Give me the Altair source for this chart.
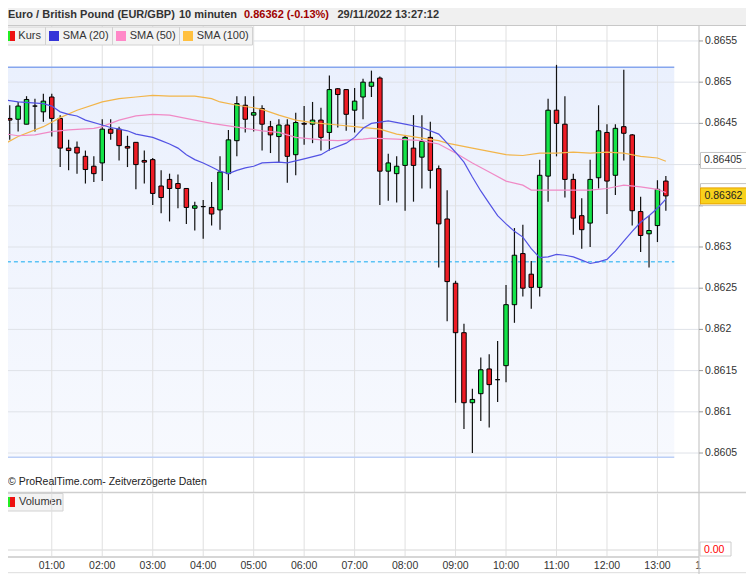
import altair as alt
import pandas as pd
import numpy as np

# ---------------- data ----------------
bar_minutes = list(range(0, 800, 10))  # 10-minute bars 00:00 .. 13:10
opens = [0.86441, 0.86456, 0.86455, 0.86449, 0.86471, 0.86464, 0.86482, 0.86456, 0.86420, 0.86421,
         0.86410, 0.86398, 0.86402, 0.86443, 0.86443, 0.86422, 0.86427, 0.86405, 0.86406, 0.86374,
         0.86382, 0.86377, 0.86371, 0.86347, 0.86349, 0.86348, 0.86345, 0.86389, 0.86429, 0.86472,
         0.86460, 0.86468, 0.86446, 0.86434, 0.86448, 0.86412, 0.86450, 0.86449, 0.86454, 0.86439,
         0.86492, 0.86491, 0.86466, 0.86482, 0.86495, 0.86505, 0.86392, 0.86389, 0.86399, 0.86420,
         0.86409, 0.86433, 0.86395, 0.86334, 0.86256, 0.86196, 0.86111, 0.86122, 0.86152, 0.86139,
         0.86156, 0.86230, 0.86292, 0.86267, 0.86251, 0.86386, 0.86466, 0.86449, 0.86382, 0.86338,
         0.86329, 0.86384, 0.86439, 0.86387, 0.86446, 0.86436, 0.86343, 0.86316, 0.86326, 0.86380]
highs = [0.86464, 0.86472, 0.86476, 0.86483, 0.86480, 0.86486, 0.86486, 0.86460, 0.86430, 0.86428,
         0.86417, 0.86410, 0.86455, 0.86455, 0.86446, 0.86435, 0.86427, 0.86417, 0.86408, 0.86393,
         0.86389, 0.86388, 0.86371, 0.86355, 0.86357, 0.86379, 0.86410, 0.86442, 0.86483, 0.86483,
         0.86483, 0.86472, 0.86453, 0.86455, 0.86455, 0.86463, 0.86471, 0.86476, 0.86469, 0.86508,
         0.86493, 0.86491, 0.86493, 0.86504, 0.86514, 0.86507, 0.86413, 0.86410, 0.86436, 0.86460,
         0.86460, 0.86452, 0.86399, 0.86369, 0.86259, 0.86207, 0.86128, 0.86166, 0.86170, 0.86186,
         0.86254, 0.86323, 0.86327, 0.86283, 0.86406, 0.86480, 0.86521, 0.86483, 0.86389, 0.86359,
         0.86406, 0.86472, 0.86449, 0.86449, 0.86515, 0.86437, 0.86361, 0.86338, 0.86381, 0.86386]
lows = [0.86437, 0.86430, 0.86440, 0.86449, 0.86440, 0.86452, 0.86434, 0.86397, 0.86393, 0.86389,
        0.86377, 0.86379, 0.86380, 0.86430, 0.86405, 0.86397, 0.86370, 0.86377, 0.86351, 0.86341,
        0.86331, 0.86347, 0.86328, 0.86320, 0.86310, 0.86326, 0.86321, 0.86369, 0.86410, 0.86439,
        0.86440, 0.86417, 0.86414, 0.86402, 0.86378, 0.86387, 0.86424, 0.86426, 0.86417, 0.86417,
        0.86445, 0.86441, 0.86439, 0.86455, 0.86482, 0.86351, 0.86356, 0.86354, 0.86344, 0.86355,
        0.86371, 0.86371, 0.86275, 0.86210, 0.86111, 0.86079, 0.86050, 0.86089, 0.86081, 0.86112,
        0.86136, 0.86208, 0.86240, 0.86225, 0.86240, 0.86355, 0.86410, 0.86360, 0.86315, 0.86298,
        0.86300, 0.86371, 0.86340, 0.86363, 0.86405, 0.86326, 0.86294, 0.86275, 0.86306, 0.86344]
closes = [0.86458, 0.86454, 0.86471, 0.86479, 0.86471, 0.86477, 0.86456, 0.86420, 0.86417, 0.86414,
          0.86394, 0.86389, 0.86443, 0.86438, 0.86423, 0.86420, 0.86400, 0.86403, 0.86365, 0.86360,
          0.86371, 0.86371, 0.86348, 0.86350, 0.86349, 0.86340, 0.86391, 0.86430, 0.86474, 0.86455,
          0.86463, 0.86449, 0.86436, 0.86448, 0.86410, 0.86451, 0.86449, 0.86454, 0.86433, 0.86491,
          0.86485, 0.86461, 0.86477, 0.86500, 0.86500, 0.86392, 0.86402, 0.86398, 0.86433, 0.86399,
          0.86428, 0.86393, 0.86328, 0.86258, 0.86196, 0.86111, 0.86115, 0.86151, 0.86133, 0.86139,
          0.86230, 0.86290, 0.86250, 0.86251, 0.86387, 0.86466, 0.86450, 0.86382, 0.86335, 0.86321,
          0.86382, 0.86441, 0.86380, 0.86444, 0.86438, 0.86344, 0.86314, 0.86320, 0.86370, 0.86362]

sma20_bar = [0, 2, 5, 6, 7, 8, 9, 10, 12, 13, 14, 15, 16, 18, 19, 20, 21, 22, 23, 24, 25, 26, 27, 28, 29,
             30, 31, 33, 34, 36, 38, 39, 41, 42, 43, 44, 46, 48, 50, 52, 53, 54, 55, 56, 57, 58, 59, 60,
             61, 62, 63, 64, 65, 66, 67, 68, 69, 70, 71, 72, 73, 74, 75, 76, 77, 78, 79]
sma20_val = [0.86479, 0.86476, 0.86474, 0.86471, 0.86464, 0.86461, 0.86459, 0.86454, 0.86448, 0.86445,
             0.86443, 0.86441, 0.86437, 0.86433, 0.86429, 0.86425, 0.86420, 0.86412, 0.86406, 0.86402,
             0.86397, 0.86392, 0.86389, 0.86393, 0.86396, 0.86398, 0.86402, 0.86403, 0.86402, 0.86407,
             0.86412, 0.86418, 0.86426, 0.86433, 0.86444, 0.86450, 0.86453, 0.86449, 0.86445, 0.86437,
             0.86426, 0.86415, 0.86403, 0.86385, 0.86368, 0.86353, 0.86338, 0.86328, 0.86319, 0.86312,
             0.86298, 0.86287, 0.86288, 0.86291, 0.86290, 0.86288, 0.86284, 0.86280, 0.86282, 0.86285,
             0.86295, 0.86307, 0.86319, 0.86330, 0.86338, 0.86347, 0.86358]
sma50_bar = [0, 2, 4, 6, 8, 11, 12, 14, 16, 18, 20, 23, 25, 27, 29, 31, 33, 35, 38, 40, 43, 44, 47, 50,
             52, 54, 56, 58, 60, 62, 63, 65, 68, 70, 72, 74, 76, 78, 79]
sma50_val = [0.86438, 0.86435, 0.86436, 0.86440, 0.86442, 0.86444, 0.86446, 0.86454, 0.86459, 0.86461,
             0.86460, 0.86454, 0.86450, 0.86447, 0.86444, 0.86441, 0.86439, 0.86433, 0.86430, 0.86429,
             0.86431, 0.86432, 0.86431, 0.86429, 0.86425, 0.86414, 0.86402, 0.86391, 0.86380, 0.86375,
             0.86369, 0.86369, 0.86369, 0.86369, 0.86371, 0.86375, 0.86373, 0.86370, 0.86366]
sma100_bar = [0, 2, 5, 7, 9, 12, 14, 16, 18, 20, 23, 25, 26, 28, 30, 31, 33, 35, 37, 40, 42, 45, 47, 50,
              52, 53, 56, 58, 60, 62, 64, 66, 68, 70, 72, 74, 76, 78, 79]
sma100_val = [0.86423, 0.86434, 0.86446, 0.86457, 0.86466, 0.86476, 0.86480, 0.86482, 0.86484, 0.86483,
              0.86483, 0.86480, 0.86476, 0.86472, 0.86469, 0.86467, 0.86460, 0.86454, 0.86451, 0.86448,
              0.86446, 0.86443, 0.86437, 0.86432, 0.86429, 0.86426, 0.86420, 0.86416, 0.86412, 0.86411,
              0.86414, 0.86414, 0.86415, 0.86414, 0.86415, 0.86414, 0.86410, 0.86408, 0.86404]

price_ticks = [0.8605, 0.861, 0.8615, 0.862, 0.8625, 0.863, 0.8635, 0.864, 0.8645, 0.865, 0.8655]
price_labels = ["0.8605", "0.861", "0.8615", "0.862", "0.8625", "0.863", "0.8635", "0.864",
                "0.8645", "0.865", "0.8655"]
covered_ticks = [0.8635, 0.864]   # labels hidden behind the value boxes
hour_ticks = [60, 120, 180, 240, 300, 360, 420, 480, 540, 600, 660, 720, 780]
hour_labels = ["01:00", "02:00", "03:00", "04:00", "05:00", "06:00", "07:00", "08:00", "09:00",
               "10:00", "11:00", "12:00", "13:00"]

day_high = 0.86518
day_low = 0.86045
dashed_level = 0.86282
range_start, range_end = -10, 800
last_price = 0.86362
sma100_last = 0.86405
sma50_last = 0.86366

# ---------------- frames ----------------
candles = pd.DataFrame({"t": bar_minutes, "o": opens, "h": highs, "l": lows, "c": closes})
candles["b0"] = np.minimum(candles.o, candles.c)
candles["b1"] = np.maximum(candles.o, candles.c)
candles["dir"] = np.where(candles.c > candles.o, "up", np.where(candles.c < candles.o, "down", "flat"))

def sma_frame(bars, vals):
    return pd.DataFrame({"t": [b * 10 for b in bars], "v": vals})

band = pd.DataFrame({"x0": [range_start], "x1": [range_end], "lo": [day_low], "hi": [day_high],
                     "lvl": [dashed_level]})
yticks = pd.DataFrame({"p": price_ticks, "s": price_labels})
ylab_df = yticks[~yticks.p.isin(covered_ticks)]
xticks = pd.DataFrame({"t": hour_ticks, "s": hour_labels})
one = pd.DataFrame({"k": [0]})

FONT = "Liberation Sans"
xs = alt.Scale(domain=[7.96, 829.4], nice=False, zero=False, padding=0)
ys = alt.Scale(domain=[0.860027, 0.865718], nice=False, zero=False, padding=0)

def X(field):
    return alt.X(field, scale=xs, axis=None)

def Y(field):
    return alt.Y(field, scale=ys, axis=None)

# ---------------- layers ----------------
band_fill = alt.Chart(band).mark_rect(
    fill=alt.LinearGradient(gradient="linear", x1=0, y1=0, x2=0, y2=1,
                            stops=[alt.GradientStop(color="#eaf0fd", offset=0),
                                   alt.GradientStop(color="#f7f9fe", offset=1)])
).encode(x=X("x0:Q"), x2="x1:Q", y=Y("lo:Q"), y2="hi:Q")

vgrid = alt.Chart(xticks).mark_rule(color="#e0e0e0", strokeWidth=1).encode(
    x=X("t:Q"), y=alt.value(3), y2=alt.value(534))

hgrid = alt.Chart(yticks).mark_rule(color="#dfe2e8", strokeWidth=1).encode(
    y=Y("p:Q"), x=alt.value(0), x2=alt.value(691))

band_top = alt.Chart(band).mark_rule(color="#86a6ee", strokeWidth=1.5).encode(
    x=X("x0:Q"), x2="x1:Q", y=Y("hi:Q"))
band_bot = alt.Chart(band).mark_rule(color="#bccff6", strokeWidth=1.5).encode(
    x=X("x0:Q"), x2="x1:Q", y=Y("lo:Q"))
dashed = alt.Chart(band).mark_rule(color="#5bc3f5", strokeWidth=1.5, strokeDash=[4, 3]).encode(
    x=X("x0:Q"), x2="x1:Q", y=Y("lvl:Q"))

wicks = alt.Chart(candles).mark_rule(color="#111111", strokeWidth=1.2).encode(
    x=X("t:Q"), y=Y("l:Q"), y2="h:Q")

bodies = alt.Chart(candles).mark_bar(size=4.5, stroke="#000000", strokeWidth=1).encode(
    x=X("t:Q"), y=Y("b0:Q"), y2="b1:Q",
    color=alt.Color("dir:N", legend=None,
                    scale=alt.Scale(domain=["up", "down", "flat"], range=["#14e448", "#ee1c25", "#000000"])))

def sma_line(bars, vals, color):
    return alt.Chart(sma_frame(bars, vals)).mark_line(color=color, strokeWidth=1.2).encode(
        x=X("t:Q"), y=Y("v:Q"))

sma100_line = sma_line(sma100_bar, sma100_val, "#f2b54a")
sma50_line = sma_line(sma50_bar, sma50_val, "#f08ac6")
sma20_line = sma_line(sma20_bar, sma20_val, "#5353e4")

# ---------------- decorations ----------------
def box(x0, x1, y0, y1, fill, stroke=None, sw=1, opacity=1):
    kw = dict(fill=fill, fillOpacity=opacity)
    if stroke:
        kw.update(stroke=stroke, strokeWidth=sw)
    return alt.Chart(one).mark_rect(**kw).encode(
        x=alt.value(x0), x2=alt.value(x1), y=alt.value(y0), y2=alt.value(y1))

def hrule(y, x0, x1, color, sw=1):
    return alt.Chart(one).mark_rule(color=color, strokeWidth=sw).encode(
        x=alt.value(x0), x2=alt.value(x1), y=alt.value(y))

def vrule(x, y0, y1, color, sw=1):
    return alt.Chart(one).mark_rule(color=color, strokeWidth=sw).encode(
        x=alt.value(x), y=alt.value(y0), y2=alt.value(y1))

def label(x, y, s, size=11, color="#333333", weight="normal", align="left"):
    return alt.Chart(one).mark_text(align=align, baseline="middle", fontSize=size, font=FONT,
                                    color=color, fontWeight=weight).encode(
        x=alt.value(x), y=alt.value(y), text=alt.value(s))

deco = [
    # header bar
    box(0, 738, -15, 2.5, "#f0f0f0"),
    hrule(2.5, 0, 738, "#c8c8c8"),
    label(0, -8, "Euro / British Pound (EUR/GBP)", 11, "#333333", "bold"),
    label(171, -8, "10 minuten", 11, "#333333", "bold"),
    label(236, -8, "0.86362 (-0.13%)", 11, "#a00000", "bold"),
    label(329.5, -8, "29/11/2022 13:27:12", 11, "#333333", "bold"),
    # legend row
    box(-7, 37.5, 4, 22, "#f3f3f3", "#d2d2d2"),
    box(-3, 2, 8, 18, "#22ee22"), box(2, 7, 8, 18, "#ee1111"),
    label(10.3, 13, "Kurs"),
    box(37.5, 104.5, 4, 22, "#f3f3f3", "#d2d2d2"),
    box(41, 51, 8, 18, "#3434d8"),
    label(54.7, 13, "SMA (20)"),
    box(104.5, 171.5, 4, 22, "#f3f3f3", "#d2d2d2"),
    box(108, 118, 8, 18, "#ff88c8"),
    label(121.7, 13, "SMA (50)"),
    box(171.5, 244.5, 4, 22, "#f3f3f3", "#d2d2d2"),
    box(175, 185, 8, 18, "#ffc040"),
    label(188.7, 13, "SMA (100)"),
    # copyright
    label(0, 459, "\u00a9 ProRealTime.com- Zeitverz\u00f6gerte Daten", 10.5, "#222222"),
    # volume panel
    box(0, 738, 469.5, 534, "#ffffff"),
    hrule(469.5, 0, 738, "#cfcfcf", 1.5),
    box(-7, 55, 470.5, 488, "#f3f3f3", "#d2d2d2"),
    box(-3, 2, 474, 484, "#22ee22"), box(2, 7, 474, 484, "#ee1111"),
    label(11, 479, "Volumen", 11),
    hrule(527, 0, 691, "#d6d6d6"),
    box(692, 723, 519, 533, "#ffffff", "#cccccc"),
    label(696, 527, "0.00", 10.5, "#ff0000"),
    # time axis
    hrule(534, 0, 691, "#c8c8c8", 1.5),
    hrule(549.7, 0, 738, "#dddddd"),
    label(687.3, 543, "1", 10.5),
    vrule(691, 2.5, 570, "#c8c8c8", 1.2),
]

vgrid_low = alt.Chart(xticks).mark_rule(color="#e0e0e0", strokeWidth=1).encode(
    x=X("t:Q"), y=alt.value(470.5), y2=alt.value(533))

xlabels = alt.Chart(xticks).mark_text(align="center", baseline="middle", fontSize=10.5, font=FONT,
                                      color="#333333").encode(
    x=X("t:Q"), y=alt.value(543), text="s:N")

ytickmarks = alt.Chart(yticks).mark_rule(color="#9a9a9a", strokeWidth=1).encode(
    y=Y("p:Q"), x=alt.value(691), x2=alt.value(695))
ylabels = alt.Chart(ylab_df).mark_text(align="left", baseline="middle", fontSize=10.5, font=FONT,
                                       color="#333333").encode(
    y=Y("p:Q"), x=alt.value(697), text="s:N")

price_box = pd.DataFrame({"v": [sma100_last], "s": ["0.86405"]})
last_box = pd.DataFrame({"v": [last_price], "s": ["0.86362"]})
sma50_box = pd.DataFrame({"v": [sma50_last]})

box_sma50 = alt.Chart(sma50_box).mark_rect(fillOpacity=0, stroke="#c4c4c4", strokeWidth=1,
                                           yOffset=-9, y2Offset=13).encode(
    y=Y("v:Q"), y2="v:Q", x=alt.value(692.5), x2=alt.value(741))
box_sma100 = alt.Chart(price_box).mark_rect(fill="#ffffff", stroke="#c4c4c4", strokeWidth=1,
                                            yOffset=-8, y2Offset=8).encode(
    y=Y("v:Q"), y2="v:Q", x=alt.value(692.5), x2=alt.value(742))
txt_sma100 = alt.Chart(price_box).mark_text(align="left", baseline="middle", fontSize=10.5, font=FONT,
                                            color="#333333").encode(
    y=Y("v:Q"), x=alt.value(696), text="s:N")
box_last = alt.Chart(last_box).mark_rect(fill="#f8d11c", stroke="#e6a100", strokeWidth=1,
                                         yOffset=-8, y2Offset=8).encode(
    y=Y("v:Q"), y2="v:Q", x=alt.value(692.5), x2=alt.value(742))
txt_last = alt.Chart(last_box).mark_text(align="left", baseline="middle", fontSize=10.5, font=FONT,
                                         color="#222222").encode(
    y=Y("v:Q"), x=alt.value(696.5), text="s:N")

chart = alt.layer(
    band_fill, hgrid, vgrid, band_top, band_bot, dashed,
    wicks, bodies, sma100_line, sma50_line, sma20_line,
    *deco, vgrid_low, xlabels, ytickmarks, ylabels,
    box_sma50, box_sma100, txt_sma100, box_last, txt_last,
).properties(
    width=691, height=469,
    autosize=alt.AutoSizeParams(type="none"),
    padding={"left": 0, "top": 15, "right": 47, "bottom": 82},
    background="#ffffff",
).configure_view(strokeWidth=0)

chart.save("out.html", embed_options={"renderer": "svg", "actions": False})
